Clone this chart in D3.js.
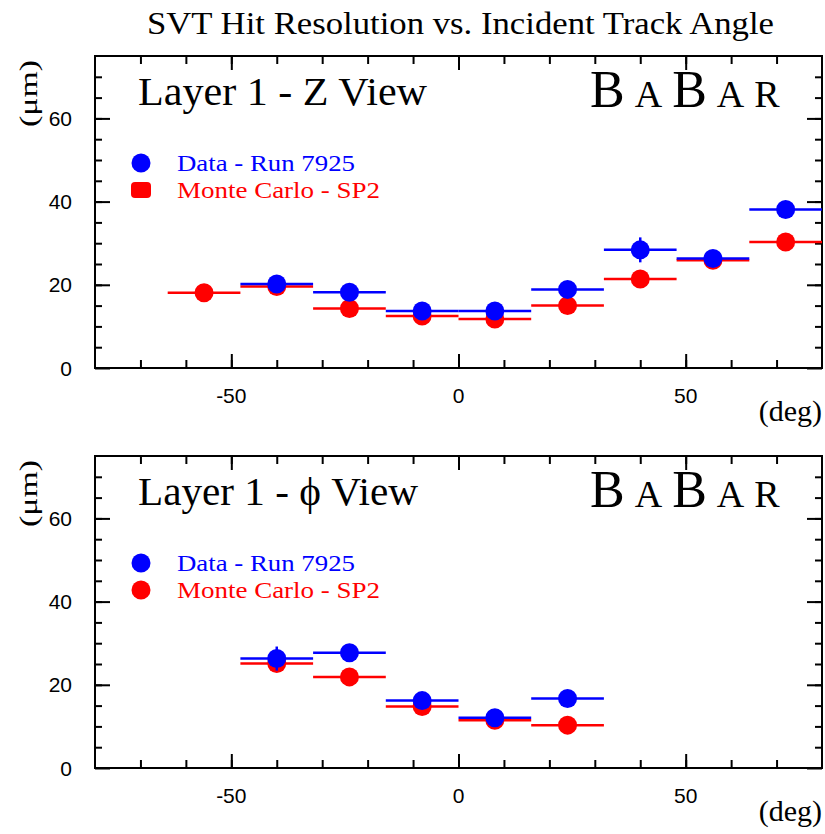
<!DOCTYPE html>
<html><head><meta charset="utf-8">
<script src="https://cdn.jsdelivr.net/npm/d3@7"></script>
<style>body{margin:0;background:#fff}</style>
</head><body>
<svg id="chart" width="825" height="834"></svg>
<script>
// ---------- data ----------
const chartTitle = "SVT Hit Resolution vs. Incident Track Angle";
const panelTitles = ["Layer 1 - Z View", "Layer 1 - \u03D5 View"];
const legendLabels = ["Data - Run 7925", "Monte Carlo - SP2"];
const xTickLabels = [-50, 0, 50];
const xMinorTicks = [-70, -60, -50, -40, -30, -20, -10, 0, 10, 20, 30, 40, 50, 60, 70];
const yTickLabels = [0, 20, 40, 60];
const yMinorTicks = [5, 10, 15, 20, 25, 30, 35, 40, 45, 50, 55, 60, 65, 70];
const xUnit = "(deg)";
const yUnit = "(\u03BCm)";
const binWidth = 16;

// Z view
const zDataAngle = [-40, -24, -8, 8, 24, 40, 56, 72];
const zDataRes   = [20.2, 18.2, 13.7, 13.7, 18.9, 28.4, 26.3, 38.1];
const zDataErr   = [1.0, 1.0, 1.0, 1.0, 1.0, 3.0, 1.0, 1.0];
const zMCAngle   = [-56, -40, -24, -8, 8, 24, 40, 56, 72];
const zMCRes     = [18.1, 19.6, 14.3, 12.5, 11.8, 15.0, 21.4, 25.9, 30.3];
const zMCErr     = [1.0, 1.0, 1.0, 1.0, 1.0, 1.0, 1.0, 1.0, 1.0];

// phi view
const phiDataAngle = [-40, -24, -8, 8, 24];
const phiDataRes   = [26.3, 27.7, 16.2, 12.1, 16.7];
const phiDataErr   = [2.9, 1.0, 1.0, 1.0, 1.0];
const phiMCAngle   = [-40, -24, -8, 8, 24];
const phiMCRes     = [25.1, 21.9, 14.8, 11.5, 10.3];
const phiMCErr     = [1.0, 1.0, 1.0, 1.0, 1.0];

// ---------- drawing ----------
const svg = d3.select("#chart");
const BLUE = "#0000ff", RED = "#ff0000";
const SERIF = "'Liberation Serif','DejaVu Serif',serif";
const SANS = "'Liberation Sans','DejaVu Sans',sans-serif";

svg.append("text")
  .attr("x", 147).attr("y", 34)
  .attr("font-family", SERIF).attr("font-size", 32)
  .attr("textLength", 627).attr("lengthAdjust", "spacingAndGlyphs")
  .text(chartTitle);

const toSeries = (angles, vals, errs) => angles.map((a, i) => ({a, v: vals[i], e: errs[i]}));

const panels = [
  {top: 56, title: panelTitles[0], titleLen: 289, data: toSeries(zDataAngle, zDataRes, zDataErr), mc: toSeries(zMCAngle, zMCRes, zMCErr), mcLegendSquare: true},
  {top: 456, title: panelTitles[1], titleLen: 280, data: toSeries(phiDataAngle, phiDataRes, phiDataErr), mc: toSeries(phiMCAngle, phiMCRes, phiMCErr), mcLegendSquare: false}
];

const left = 95, right = 822, plotH = 312;

panels.forEach(p => {
  const g = svg.append("g");
  const x = d3.scaleLinear().domain([-80, 80]).range([left, right]);
  const y = d3.scaleLinear().domain([0, 75]).range([p.top + plotH, p.top]);
  const bottom = p.top + plotH;

  // ticks (inward on all four sides)
  const styleAxis = sel => {
    sel.select(".domain").remove();
    sel.selectAll("line").attr("stroke", "#000").attr("stroke-width", 2);
  };
  g.append("g").attr("transform", `translate(0,${bottom})`)
    .call(d3.axisBottom(x).tickValues(xMinorTicks).tickSize(-8).tickFormat("")).call(styleAxis);
  g.append("g").attr("transform", `translate(0,${bottom})`)
    .call(d3.axisBottom(x).tickValues(xTickLabels).tickSize(-14).tickFormat("")).call(styleAxis);
  g.append("g").attr("transform", `translate(0,${p.top})`)
    .call(d3.axisTop(x).tickValues(xMinorTicks).tickSize(-8).tickFormat("")).call(styleAxis);
  g.append("g").attr("transform", `translate(0,${p.top})`)
    .call(d3.axisTop(x).tickValues(xTickLabels).tickSize(-14).tickFormat("")).call(styleAxis);
  g.append("g").attr("transform", `translate(${left},0)`)
    .call(d3.axisLeft(y).tickValues(yMinorTicks).tickSize(-7).tickFormat("")).call(styleAxis);
  g.append("g").attr("transform", `translate(${left},0)`)
    .call(d3.axisLeft(y).tickValues(yTickLabels).tickSize(-15).tickFormat("")).call(styleAxis);
  g.append("g").attr("transform", `translate(${right},0)`)
    .call(d3.axisRight(y).tickValues(yMinorTicks).tickSize(-7).tickFormat("")).call(styleAxis);
  g.append("g").attr("transform", `translate(${right},0)`)
    .call(d3.axisRight(y).tickValues(yTickLabels).tickSize(-15).tickFormat("")).call(styleAxis);

  // frame
  g.append("rect").attr("x", left).attr("y", p.top).attr("width", right - left).attr("height", plotH)
    .attr("fill", "none").attr("stroke", "#000").attr("stroke-width", 2);

  // tick labels
  g.selectAll(".xl").data(xTickLabels).join("text")
    .attr("x", d => x(d)).attr("y", bottom + 35).attr("text-anchor", "middle")
    .attr("font-family", SANS).attr("font-size", 21).text(d => d);
  g.selectAll(".yl").data(yTickLabels).join("text")
    .attr("x", 72).attr("y", d => y(d) + 7.5).attr("text-anchor", "end")
    .attr("font-family", SANS).attr("font-size", 21).text(d => d);

  // unit labels
  g.append("text").attr("x", right).attr("y", bottom + 53).attr("text-anchor", "end")
    .attr("font-family", SERIF).attr("font-size", 30)
    .text(xUnit);
  g.append("text").attr("transform", `translate(37,${p.top + 71}) rotate(-90)`)
    .attr("font-family", SERIF).attr("font-size", 26)
    .attr("textLength", 67).attr("lengthAdjust", "spacingAndGlyphs")
    .text(yUnit);

  // panel title
  g.append("text").attr("x", 138).attr("y", p.top + 49)
    .attr("font-family", SERIF).attr("font-size", 40)
    .attr("textLength", p.titleLen).attr("lengthAdjust", "spacingAndGlyphs")
    .text(p.title);

  // BaBar logo
  const logo = g.append("text").attr("x", 590).attr("y", p.top + 51)
    .attr("font-family", SERIF).attr("letter-spacing", 10);
  [["B", 52], ["A", 38], ["B", 52], ["A", 38], ["R", 38]].forEach(([c, s]) =>
    logo.append("tspan").attr("font-size", s).text(c));

  // legend
  g.append("circle").attr("cx", 141).attr("cy", p.top + 107).attr("r", 9.5).attr("fill", BLUE);
  g.append("text").attr("x", 177).attr("y", p.top + 115).attr("fill", BLUE)
    .attr("font-family", SERIF).attr("font-size", 24)
    .attr("textLength", 178).attr("lengthAdjust", "spacingAndGlyphs").text(legendLabels[0]);
  if (p.mcLegendSquare) {
    g.append("rect").attr("x", 131).attr("y", p.top + 126).attr("width", 20).attr("height", 16)
      .attr("rx", 4).attr("fill", RED);
  } else {
    g.append("circle").attr("cx", 141).attr("cy", p.top + 134).attr("r", 9.5).attr("fill", RED);
  }
  g.append("text").attr("x", 177).attr("y", p.top + 142).attr("fill", RED)
    .attr("font-family", SERIF).attr("font-size", 24)
    .attr("textLength", 203).attr("lengthAdjust", "spacingAndGlyphs").text(legendLabels[1]);

  // series: MC first, then data on top
  [[p.mc, RED], [p.data, BLUE]].forEach(([series, col]) => {
    const s = g.append("g");
    s.selectAll(".h").data(series).join("line")
      .attr("x1", d => x(d.a - binWidth / 2)).attr("x2", d => x(d.a + binWidth / 2))
      .attr("y1", d => y(d.v)).attr("y2", d => y(d.v))
      .attr("stroke", col).attr("stroke-width", 2.5);
    s.selectAll(".v").data(series).join("line")
      .attr("x1", d => x(d.a)).attr("x2", d => x(d.a))
      .attr("y1", d => y(d.v - d.e)).attr("y2", d => y(d.v + d.e))
      .attr("stroke", col).attr("stroke-width", 2.5);
    s.selectAll("circle").data(series).join("circle")
      .attr("cx", d => x(d.a)).attr("cy", d => y(d.v)).attr("r", 9.5).attr("fill", col);
  });
});
</script>
</body></html>
